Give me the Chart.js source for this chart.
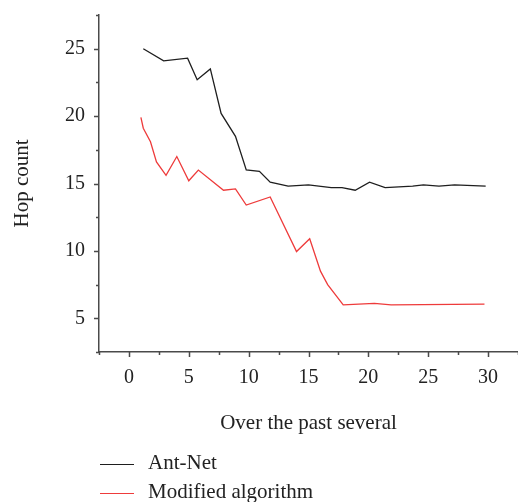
<!DOCTYPE html>
<html>
<head>
<meta charset="utf-8">
<script src="https://cdn.jsdelivr.net/npm/chart.js@4.4.1/dist/chart.umd.min.js"></script>
<style>
  html, body { margin: 0; padding: 0; background: #fff; }
  #wrap { width: 518px; height: 502px; }
</style>
</head>
<body>
<div id="wrap"><canvas id="hop-chart"></canvas></div>
<script>
// values (vertices of each polyline)
const antNetX = [1.2, 2.9, 4.9, 5.7, 6.8, 7.7, 8.9, 9.8, 10.9, 11.8, 13.3, 15.0, 16.9, 17.8, 18.9, 20.1, 21.4, 23.7, 24.6, 25.9, 27.2, 29.8];
const antNetY = [25.0, 24.1, 24.3, 22.7, 23.5, 20.2, 18.5, 16.0, 15.9, 15.1, 14.8, 14.9, 14.7, 14.7, 14.5, 15.1, 14.7, 14.8, 14.9, 14.8, 14.9, 14.8];
const modX = [1.0, 1.2, 1.8, 2.3, 3.1, 4.0, 5.0, 5.8, 7.9, 8.9, 9.8, 11.8, 14.0, 15.1, 16.0, 16.6, 17.9, 20.5, 21.9, 29.7];
const modY = [19.9, 19.1, 18.1, 16.6, 15.6, 17.0, 15.2, 16.0, 14.5, 14.6, 13.4, 14.0, 9.95, 10.9, 8.5, 7.5, 6.0, 6.1, 6.0, 6.05];
const seriesNames = ["Ant-Net", "Modified algorithm"];
const xTitle = "Over the past several";
const yTitle = "Hop count";

const FONT = "'Liberation Serif', 'Times New Roman', serif";
const AXIS = "#4a4a4a";

const toPoints = (xs, ys) => xs.map((x, i) => ({ x: x, y: ys[i] }));
const everyFive = (v) => (Math.abs(v % 5) < 1e-9 ? v : "");

// outward tick marks: long on labelled values, short in between
const tickMarks = {
  id: "tickMarks",
  afterDraw(chart) {
    const ctx = chart.ctx;
    const xs = chart.scales.x, ys = chart.scales.y;
    ctx.save();
    ctx.strokeStyle = AXIS;
    ctx.lineWidth = 1.5;
    ctx.beginPath();
    xs.ticks.forEach((t) => {
      const px = Math.round(xs.getPixelForValue(t.value)) + 0.5;
      const len = everyFive(t.value) === "" ? 3 : 5;
      ctx.moveTo(px, xs.top);
      ctx.lineTo(px, xs.top + len);
    });
    ys.ticks.forEach((t) => {
      const py = Math.round(ys.getPixelForValue(t.value)) + 0.5;
      const len = everyFive(t.value) === "" ? 3 : 5;
      ctx.moveTo(ys.right, py);
      ctx.lineTo(ys.right - len, py);
    });
    ctx.stroke();
    ctx.restore();
  },
};

// stacked legend under the x-axis title
const lineLegend = {
  id: "lineLegend",
  afterDraw(chart) {
    const ctx = chart.ctx;
    ctx.save();
    ctx.font = "21px " + FONT;
    ctx.textBaseline = "middle";
    ctx.fillStyle = "#222";
    chart.data.datasets.forEach((ds, i) => {
      const y = 464 + i * 29;
      ctx.strokeStyle = ds.borderColor;
      ctx.lineWidth = 1.2;
      ctx.beginPath();
      ctx.moveTo(100, y + 0.5);
      ctx.lineTo(134, y + 0.5);
      ctx.stroke();
      ctx.fillText(ds.label, 148, y - 1);
    });
    ctx.restore();
  },
};

const config = {
  type: "line",
  data: {
    datasets: [
      {
        label: seriesNames[0],
        data: toPoints(antNetX, antNetY),
        borderColor: "#1e1e1e",
        borderWidth: 1.3,
        pointRadius: 0,
        tension: 0,
      },
      {
        label: seriesNames[1],
        data: toPoints(modX, modY),
        borderColor: "#ee3b3b",
        borderWidth: 1.3,
        pointRadius: 0,
        tension: 0,
      },
    ],
  },
  options: {
    responsive: true,
    maintainAspectRatio: false,
    animation: false,
    layout: { padding: { top: 15, right: 0, bottom: 60, left: 0 } },
    plugins: { legend: { display: false }, tooltip: { enabled: false } },
    scales: {
      x: {
        type: "linear",
        min: -2.5,
        max: 32.5,
        afterFit: (s) => {
          s.height = 90;
          s.paddingLeft = 0;
          s.paddingRight = 0;
        },
        border: { color: AXIS, width: 1.5 },
        grid: { drawOnChartArea: false, drawTicks: false },
        ticks: {
          stepSize: 2.5,
          autoSkip: false,
          maxRotation: 0,
          padding: 14,
          color: "#222",
          font: { family: FONT, size: 20 },
          callback: everyFive,
        },
        title: {
          display: true,
          text: xTitle,
          color: "#222",
          font: { family: FONT, size: 21 },
          padding: { top: 0, bottom: 6 },
        },
      },
      y: {
        min: 2.5,
        max: 27.5,
        afterFit: (s) => {
          s.width = 99;
          s.paddingTop = 0;
          s.paddingBottom = 0;
        },
        border: { color: AXIS, width: 1.5 },
        grid: { drawOnChartArea: false, drawTicks: false },
        ticks: {
          stepSize: 2.5,
          autoSkip: false,
          padding: 14,
          color: "#222",
          font: { family: FONT, size: 20 },
          callback: everyFive,
        },
        title: {
          display: true,
          text: yTitle,
          color: "#222",
          font: { family: FONT, size: 21 },
          padding: { top: 10, bottom: 0 },
        },
      },
    },
  },
  plugins: [tickMarks, lineLegend],
};

const hopChart = new Chart(document.getElementById("hop-chart"), config);
</script>
</body>
</html>
